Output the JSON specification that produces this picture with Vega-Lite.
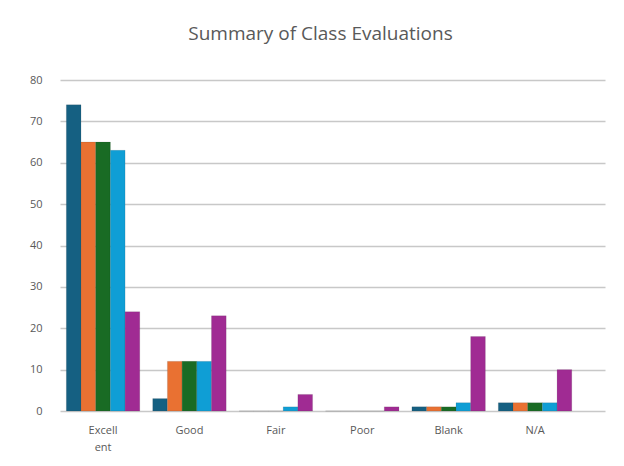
{
  "$schema": "https://vega.github.io/schema/vega-lite/v6.json",
  "width": 545,
  "height": 331,
  "autosize": {"type": "none"},
  "padding": {"left": 60, "top": 80, "right": 19, "bottom": 55},
  "background": "white",
  "title": {
    "text": "Summary of Class Evaluations",
    "font": "Open Sans",
    "fontSize": 19,
    "fontWeight": "normal",
    "color": "#595959",
    "anchor": "middle",
    "dx": -12,
    "offset": 30
  },
  "data": {
    "values": [
      {"category": "Excellent", "series": "Series 1", "value": 74},
      {"category": "Excellent", "series": "Series 2", "value": 65},
      {"category": "Excellent", "series": "Series 3", "value": 65},
      {"category": "Excellent", "series": "Series 4", "value": 63},
      {"category": "Excellent", "series": "Series 5", "value": 24},
      {"category": "Good", "series": "Series 1", "value": 3},
      {"category": "Good", "series": "Series 2", "value": 12},
      {"category": "Good", "series": "Series 3", "value": 12},
      {"category": "Good", "series": "Series 4", "value": 12},
      {"category": "Good", "series": "Series 5", "value": 23},
      {"category": "Fair", "series": "Series 1", "value": 0},
      {"category": "Fair", "series": "Series 2", "value": 0},
      {"category": "Fair", "series": "Series 3", "value": 0},
      {"category": "Fair", "series": "Series 4", "value": 1},
      {"category": "Fair", "series": "Series 5", "value": 4},
      {"category": "Poor", "series": "Series 1", "value": 0},
      {"category": "Poor", "series": "Series 2", "value": 0},
      {"category": "Poor", "series": "Series 3", "value": 0},
      {"category": "Poor", "series": "Series 4", "value": 0},
      {"category": "Poor", "series": "Series 5", "value": 1},
      {"category": "Blank", "series": "Series 1", "value": 1},
      {"category": "Blank", "series": "Series 2", "value": 1},
      {"category": "Blank", "series": "Series 3", "value": 1},
      {"category": "Blank", "series": "Series 4", "value": 2},
      {"category": "Blank", "series": "Series 5", "value": 18},
      {"category": "N/A", "series": "Series 1", "value": 2},
      {"category": "N/A", "series": "Series 2", "value": 2},
      {"category": "N/A", "series": "Series 3", "value": 2},
      {"category": "N/A", "series": "Series 4", "value": 2},
      {"category": "N/A", "series": "Series 5", "value": 10}
    ]
  },
  "mark": {"type": "bar", "stroke": "#3a3a3a", "strokeOpacity": 0.25, "strokeWidth": 0.5},
  "encoding": {
    "x": {
      "field": "category",
      "type": "nominal",
      "sort": ["Excellent", "Good", "Fair", "Poor", "Blank", "N/A"],
      "scale": {"paddingInner": 0.15, "paddingOuter": 0.229, "align": 0.16},
      "axis": {
        "title": null,
        "labelAngle": 0,
        "domain": false,
        "ticks": false,
        "labelPadding": 13,
        "labelFont": "Open Sans",
        "labelFontSize": 11,
        "labelLineHeight": 17,
        "labelColor": "#595959",
        "labelExpr": "datum.label == 'Excellent' ? ['Excell', 'ent'] : datum.label"
      }
    },
    "xOffset": {
      "field": "series",
      "type": "nominal",
      "scale": {"paddingInner": 0, "paddingOuter": 0}
    },
    "y": {
      "field": "value",
      "type": "quantitative",
      "scale": {"domain": [0, 80]},
      "axis": {
        "title": null,
        "values": [0, 10, 20, 30, 40, 50, 60, 70, 80],
        "domain": false,
        "ticks": false,
        "labelPadding": 18,
        "labelFont": "Open Sans",
        "labelFontSize": 11,
        "labelColor": "#595959",
        "gridColor": "#c8c8c8",
        "gridWidth": 1.5
      }
    },
    "color": {
      "field": "series",
      "type": "nominal",
      "scale": {"range": ["#156082", "#E97132", "#196B24", "#0F9ED5", "#A02B93"]},
      "legend": null
    }
  },
  "config": {"view": {"stroke": null}}
}
